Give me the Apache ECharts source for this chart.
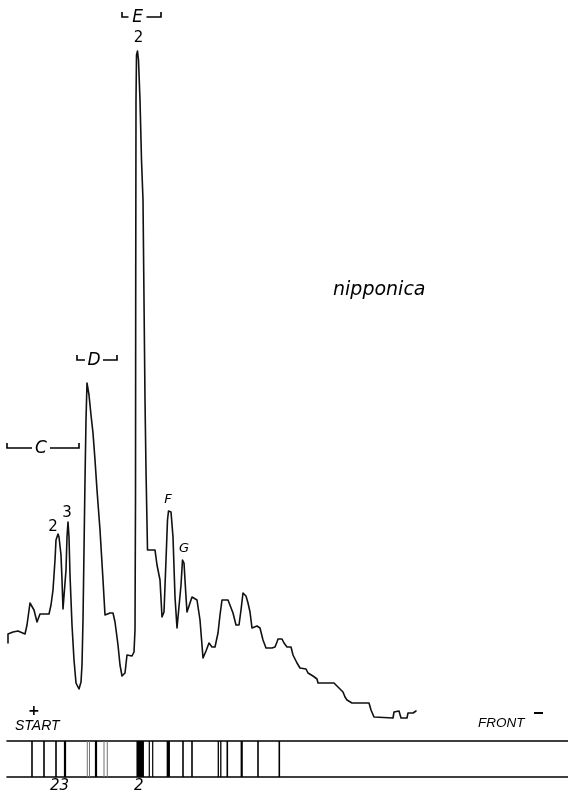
<!DOCTYPE html>
<html>
<head>
<meta charset="utf-8">
<script src="https://cdn.jsdelivr.net/npm/echarts@6/dist/echarts.min.js"></script>
<style>
html,body{margin:0;padding:0;background:#fff;}
#c{width:568px;height:795px;}
</style>
</head>
<body>
<div id="c"></div>
<script>
// Densitometer trace: migration distance (x) vs optical density (y)
const traceX = [8,8,13,14,18,20,25,27,30,32,34,37,40,49,51,53,55,56,58,59,61,62,63,65,66,67,68,69,70,72,74,76,79,81,82,83,84,85,86,87,89,91,93,95,97,100,103,105,110,113,115,118,120,122,125,127,128,132,134,135,135.5,135.7,136,136.5,137.5,138.5,140,141.5,143,144,145,146,147.5,155,157,160,162,164,166,167.5,168.5,171,173,175,177,179,181,182.5,184,186,187,189,192,194,197,200,203,206,209,212,215,218,220,222,225,226,228,229,233,236,239,241,243,246,248,250,252,257,260,263,266,272,275,277,278,282,284,287,291,293,297,300,306,308,313,317,318,334,338,343,345,347,352,369,371,374,393,394,396,399,401,407,408,413,416];
const traceY = [77,86,88,89,89,87,86,95,117,117,110,98,106,106,115,130,160,180,186,183,165,140,111,111,150,183,198,183,145,95,60,37,31,38,55,100,170,240,300,337,325,305,287,260,230,190,140,105,107,107,98,75,55,44,47,65,67,64,68,90,220,420,620,665,669,660,620,560,520,420,320,250,170,170,155,140,103,108,160,200,209,208,183,123,92,92,135,160,157,123,108,110,123,124,120,100,62,69,77,73,73,87,105,120,120,118,120,120,107,95,95,110,127,124,117,108,92,94,92,80,72,72,73,78,81,81,77,73,73,65,57,52,51,47,44,41,37,37,33,28,23,20,17,17,10,3,2,8,10,9,2,2,7,7,9];

// Band strip (electropherogram)
const bandPos     = [32,44,56,65,87.3,89.5,96,104,107.3,140.2,149.3,152.7,168.3,183,192,218.3,220.8,227.3,241.7,258,279.3];
const bandWidth   = [1.6,1.6,1.6,2.2,1,1,2.2,1,1,7.5,1.2,1.2,3.3,1.6,1.6,1.3,1.3,1.6,2.2,1.6,1.6];
const bandDensity = [1,1,1,1,0.4,0.4,1,0.4,0.4,1,1,1,1,1,1,1,1,1,1,1,1];

// Zone brackets
const bracketLabel  = ['C','D','E'];
const bracketFrom   = [7,77,122];
const bracketTo     = [79,117,161];
const bracketLevel  = [272,360,703];
const bracketLabelX = [41,94,137.5];

// Peak labels
const peakLabelText = ['2','3','2','F','G'];
const peakLabelX    = [53,67,138.5,168,184];
const peakLabelY    = [193,207,682,220,171];

// Strip labels
const stripLabelText = ['23','2'];
const stripLabelX    = [60,139];

const chart = echarts.init(document.getElementById('c'), null, {renderer:'canvas'});
const black = '#000';
const FONT = 'DejaVu Sans';

const option = {
  animation:false,
  backgroundColor:'#fff',
  grid:[
    {left:0, top:0, width:568, height:720},
    {left:7, top:741, width:561, height:36}
  ],
  xAxis:[
    {gridIndex:0, type:'value', min:0, max:568, show:false},
    {gridIndex:1, type:'value', min:7, max:568, position:'bottom',
     axisLine:{show:true, onZero:false, lineStyle:{color:black, width:1.6}},
     axisTick:{show:false}, axisLabel:{show:false}, splitLine:{show:false}},
    {gridIndex:1, type:'value', min:7, max:568, position:'top',
     axisLine:{show:true, onZero:false, lineStyle:{color:black, width:1.6}},
     axisTick:{show:false}, axisLabel:{show:false}, splitLine:{show:false}}
  ],
  yAxis:[
    {gridIndex:0, type:'value', min:0, max:720, show:false},
    {gridIndex:1, type:'value', min:0, max:1, show:false}
  ],
  series:[
    {
      type:'line', xAxisIndex:0, yAxisIndex:0,
      data: traceX.map((x,i)=>[x, traceY[i]]),
      showSymbol:false, symbol:'none', clip:false,
      lineStyle:{color:'#111', width:1.6, join:'round', cap:'round'},
      z:3
    },
    {
      type:'custom', xAxisIndex:1, yAxisIndex:1, clip:false,
      data: bandPos.map((p,i)=>[p, bandWidth[i], bandDensity[i]]),
      renderItem:(params, api)=>{
        const x = api.value(0), w = api.value(1), d = api.value(2);
        const t = api.coord([x,1]), b = api.coord([x,0]);
        const pw = api.size([w,0])[0];
        const g = Math.round(255*(1-d)*0.75);
        return {type:'rect', shape:{x:t[0]-pw/2, y:t[1], width:pw, height:b[1]-t[1]},
                style:{fill:`rgb(${g},${g},${g})`}};
      }
    },
    {
      type:'custom', xAxisIndex:0, yAxisIndex:0, clip:false,
      data: bracketFrom.map((f,i)=>[f, bracketTo[i], bracketLevel[i], bracketLabelX[i]]),
      renderItem:(params, api)=>{
        const i = params.dataIndex;
        const a = api.coord([api.value(0), api.value(2)]);
        const b = api.coord([api.value(1), api.value(2)]);
        const c = api.coord([api.value(3), api.value(2)]);
        const gap = 9, tick = 5;
        const ls = {stroke:black, lineWidth:1.6, fill:null};
        return {type:'group', children:[
          {type:'polyline', shape:{points:[[a[0],a[1]-tick],[a[0],a[1]],[c[0]-gap,a[1]]]}, style:ls},
          {type:'polyline', shape:{points:[[c[0]+gap,b[1]],[b[0],b[1]],[b[0],b[1]-tick]]}, style:ls},
          {type:'text', x:c[0], y:c[1]+1, style:{text:bracketLabel[i], fill:black,
            font:`italic 17px "${FONT}"`, textAlign:'center', textVerticalAlign:'middle'}}
        ]};
      }
    },
    {
      type:'custom', xAxisIndex:0, yAxisIndex:0, clip:false,
      data: peakLabelX.map((x,i)=>[x, peakLabelY[i]]),
      renderItem:(params, api)=>{
        const i = params.dataIndex;
        const p = api.coord([api.value(0), api.value(1)]);
        const t = peakLabelText[i];
        const it = (t==='F'||t==='G');
        return {type:'text', x:p[0], y:p[1], style:{text:t, fill:black,
          font:`${it?'italic ':''}${it?13:15}px "${FONT}"`, textAlign:'center', textVerticalAlign:'middle'}};
      }
    }
  ],
  graphic:[
    {type:'text', left:333, top:281, style:{text:'nipponica', fill:black, font:`italic 19px "${FONT}"`}},
    {type:'text', left:15, top:719, style:{text:'START', fill:black, font:'italic 14px "Liberation Sans"'}},
    {type:'text', left:478, top:716, style:{text:'FRONT', fill:black, font:'italic 13.5px "Liberation Sans"'}},
    {type:'text', left:28, top:704, style:{text:'+', fill:black, font:'bold 14px "DejaVu Sans"'}},
    {type:'rect', shape:{x:534, y:712, width:9, height:2}, style:{fill:black}},
    {type:'text', left:50, top:779, style:{text:stripLabelText[0], fill:black, font:`italic 15px "${FONT}"`}},
    {type:'text', left:134, top:779, style:{text:stripLabelText[1], fill:black, font:`italic 15px "${FONT}"`}}
  ]
};
chart.setOption(option);
</script>
</body>
</html>
